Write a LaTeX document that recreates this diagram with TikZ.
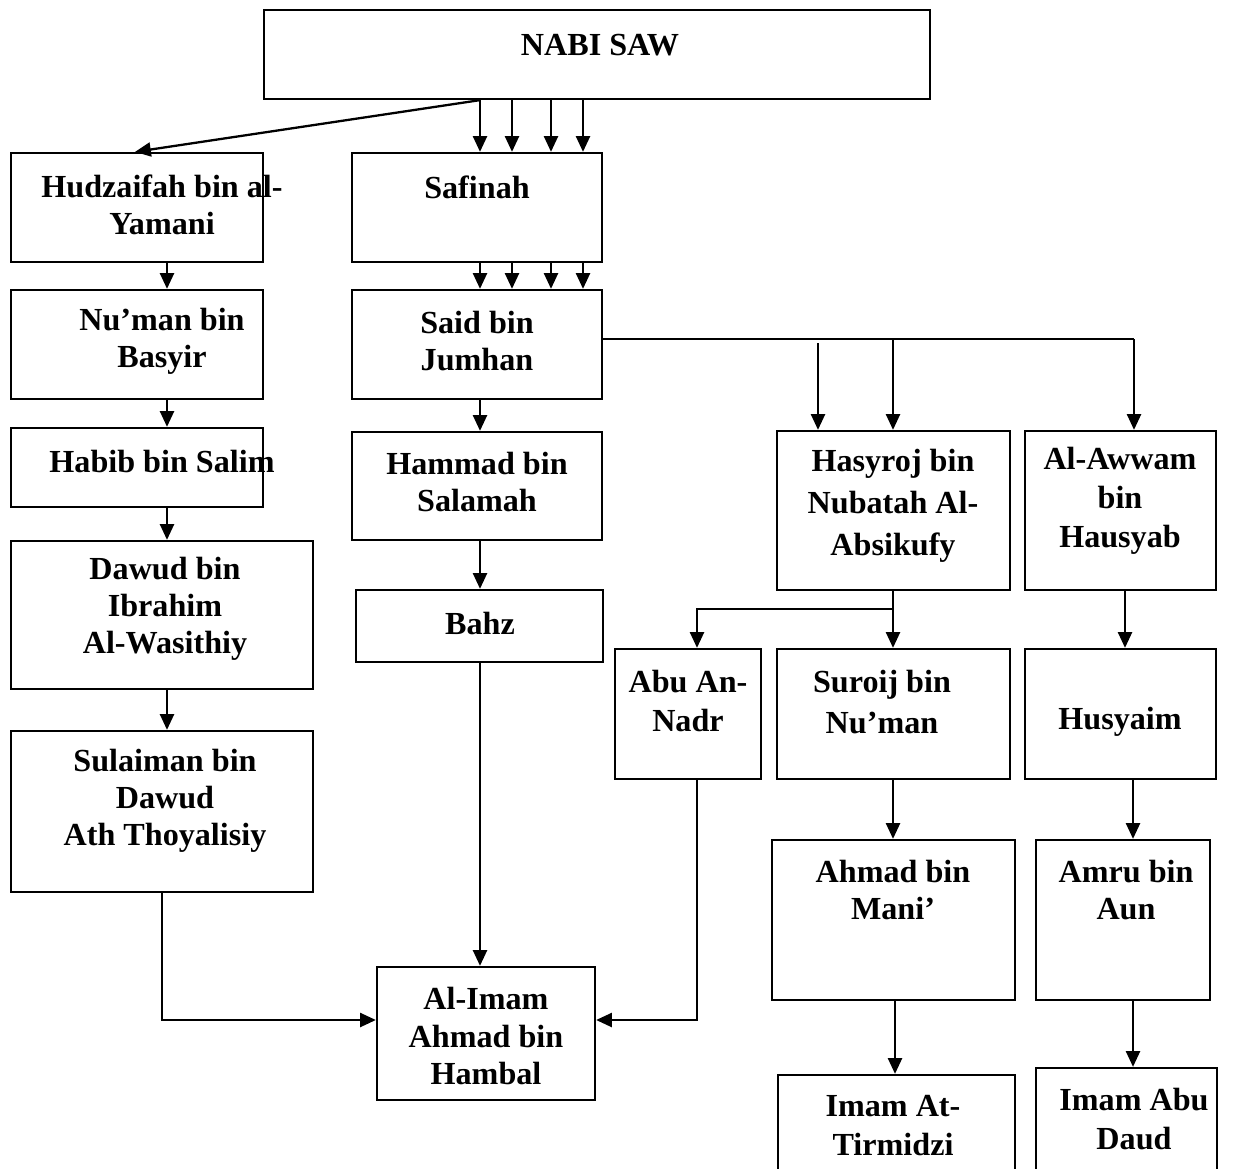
\documentclass[tikz,border=0pt]{standalone}
\usepackage{fontspec}
\setmainfont{Liberation Serif}
\usetikzlibrary{arrows.meta}
% box: corners given in picture units (x1,y1,x2,y2)
\newcommand\chainbox[5]{\node[box, minimum width={(#4-#2)*0.02cm}, minimum height={(#5-#3)*0.02cm}] (#1) at ({(#2+#4)/2},{(#3+#5)/2}) {};}
\tikzset{
  box/.style={draw, line width=1.3pt, inner sep=0pt},
  txt/.style={align=center, inner sep=0pt, font=\bfseries\fontsize{18.3}{21.2}\selectfont},
  wide/.style={font=\bfseries\fontsize{18.3}{23.8}\selectfont},
  mid/.style={font=\bfseries\fontsize{18.3}{22.2}\selectfont},
  arr/.style={line width=1.3pt, -{Triangle[width=8pt,length=9pt]}},
  ln/.style={line width=1.3pt}
}
\begin{document}
\begin{tikzpicture}[x=0.02cm, y=-0.02cm]
\useasboundingbox (0,0) rectangle (1240,1169);

% boxes
\chainbox{nabi}{264}{10}{930}{99}
\chainbox{hud}{11}{153}{263}{262}
\chainbox{saf}{352}{153}{602}{262}
\chainbox{num}{11}{290}{263}{399}
\chainbox{said}{352}{290}{602}{399}
\chainbox{hab}{11}{428}{263}{507}
\chainbox{ham}{352}{432}{602}{540}
\chainbox{daw}{11}{541}{313}{689}
\chainbox{bahz}{356}{590}{603}{662}
\chainbox{sul}{11}{731}{313}{892}
\chainbox{imam}{377}{967}{595}{1100}
\chainbox{has}{777}{431}{1010}{590}
\chainbox{awwam}{1025}{431}{1216}{590}
\chainbox{abu}{615}{649}{761}{779}
\chainbox{sur}{777}{649}{1010}{779}
\chainbox{husy}{1025}{649}{1216}{779}
\chainbox{mani}{772}{840}{1015}{1000}
\chainbox{amru}{1036}{840}{1210}{1000}
\chainbox{tir}{778}{1075}{1015}{1200}
\chainbox{daud}{1036}{1068}{1217}{1200}

% labels
\node[txt] (tnabi) at (600,45) {NABI SAW};
\node[txt] (thud) at (162,205) {Hudzaifah bin al-\\Yamani};
\node[txt] (tsaf) at (477,187) {Safinah};
\node[txt] (tnum) at (162,341) {Nu’man bin\\Basyir};
\node[txt] (tsaid) at (477,341) {Said bin\\Jumhan};
\node[txt] (thab) at (162,461) {Habib bin Salim};
\node[txt] (tham) at (477,482) {Hammad bin\\Salamah};
\node[txt] (tdaw) at (165,609) {Dawud bin\\Ibrahim\\Al-Wasithiy};
\node[txt] (tbahz) at (480,623) {Bahz};
\node[txt] (tsul) at (165,801) {Sulaiman bin\\Dawud\\Ath Thoyalisiy};
\node[txt] (timam) at (486,1036) {Al-Imam\\Ahmad bin\\Hambal};
\node[txt,wide] (thas) at (893,506) {Hasyroj bin\\Nubatah Al-\\Absikufy};
\node[txt,mid] (tawwam) at (1120,501) {Al-Awwam\\bin\\Hausyab};
\node[txt,mid] (tabu) at (688,701) {Abu An-\\Nadr};
\node[txt,wide] (tsur) at (882,702) {Suroij bin\\Nu’man};
\node[txt] (thusy) at (1120,722) {Husyaim};
\node[txt] (tmani) at (893,890) {Ahmad bin\\Mani’};
\node[txt] (tamru) at (1126,890) {Amru bin\\Aun};
\node[txt,mid] (ttir) at (893,1126) {Imam At-\\Tirmidzi};
\node[txt,mid] (tdaud) at (1134,1119) {Imam Abu\\Daud};

% top links
\draw[arr] (480,0 |- nabi.south) -- (135,0 |- hud.north);
\foreach \x in {480,512,551,583}{
  \draw[arr] (\x,0 |- nabi.south) -- (\x,0 |- saf.north);
  \draw[arr] (\x,0 |- saf.south) -- (\x,0 |- said.north);
}

% left chain
\draw[arr] (167,0 |- hud.south) -- (167,0 |- num.north);
\draw[arr] (167,0 |- num.south) -- (167,0 |- hab.north);
\draw[arr] (167,0 |- hab.south) -- (167,0 |- daw.north);
\draw[arr] (167,0 |- daw.south) -- (167,0 |- sul.north);
\draw[arr] (162,0 |- sul.south) |- (imam.west |- 0,1020);

% middle chain
\draw[arr] (480,0 |- said.south) -- (480,0 |- ham.north);
\draw[arr] (480,0 |- ham.south) -- (480,0 |- bahz.north);
\draw[arr] (480,0 |- bahz.south) -- (480,0 |- imam.north);

% branch to the right
\coordinate (jr) at (1134,339);
\coordinate (jm) at (893,339);
\coordinate (jl) at (818,343);
\draw[ln] (said.east |- jr) -- (jr);
\draw[arr] (jr) -- (jr |- awwam.north);
\draw[arr] (jm) -- (jm |- has.north);
\draw[arr] (jl) -- (jl |- has.north);

% Hasyroj branch
\coordinate (jh) at (893,609);
\draw[arr] (893,0 |- has.south) -- (893,0 |- sur.north);
\draw[arr] (jh) -| (697,0 |- abu.north);
\draw[arr] (697,0 |- abu.south) |- (imam.east |- 0,1020);
\draw[arr] (893,0 |- sur.south) -- (893,0 |- mani.north);
\draw[arr] (895,0 |- mani.south) -- (895,0 |- tir.north);

% Al-Awwam branch
\draw[arr] (1125,0 |- awwam.south) -- (1125,0 |- husy.north);
\draw[arr] (1133,0 |- husy.south) -- (1133,0 |- amru.north);
\draw[arr] (1133,0 |- amru.south) -- (1133,0 |- daud.north);
\end{tikzpicture}
\end{document}
